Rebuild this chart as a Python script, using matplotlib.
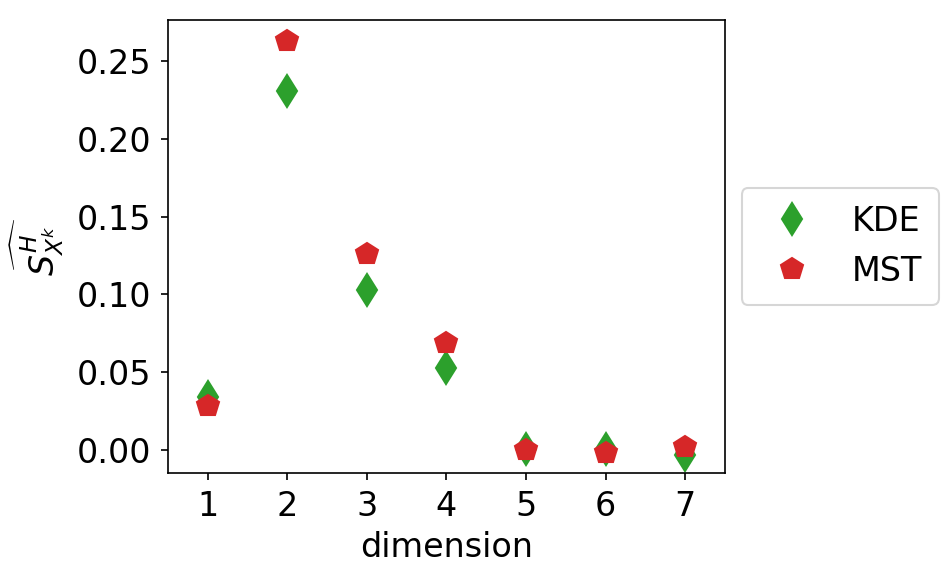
import matplotlib
matplotlib.use("Agg")
import matplotlib.pyplot as plt

dims = [1, 2, 3, 4, 5, 6, 7]
kde = [0.034, 0.231, 0.103, 0.053, 0.0005, 0.0005, -0.003]
mst = [0.028, 0.263, 0.126, 0.069, 0.000, -0.002, 0.002]

plt.rcParams['font.size'] = 16
plt.rcParams['xtick.major.pad'] = 4.5
plt.rcParams['ytick.major.pad'] = 4.5
fig = plt.figure(figsize=(9.48/1.5, 5.78/1.5), dpi=150)
ax = fig.add_axes([168/948, 1-473/578, (725-168)/948, (473-20)/578])
ax.plot(dims, kde, linestyle='none', marker='d', markersize=11, color='#2ca02c', label='KDE')
ax.plot(dims, mst, linestyle='none', marker='p', markersize=11, color='#d62728', label='MST')
ax.set_xlim(0.5, 7.5)
ax.set_ylim(-0.0148, 0.2764)
ax.set_xticks(dims)
ax.set_yticks([0.0, 0.05, 0.10, 0.15, 0.20, 0.25])
ax.set_xlabel('dimension', labelpad=4)
ax.set_ylabel(r'$\widehat{S^H_{X^k}}$', labelpad=5)
ax.legend(loc='center left', bbox_to_anchor=(1.0, 0.5), handletextpad=0.8, borderpad=0.5)
fig.savefig('out.png', dpi=150)
